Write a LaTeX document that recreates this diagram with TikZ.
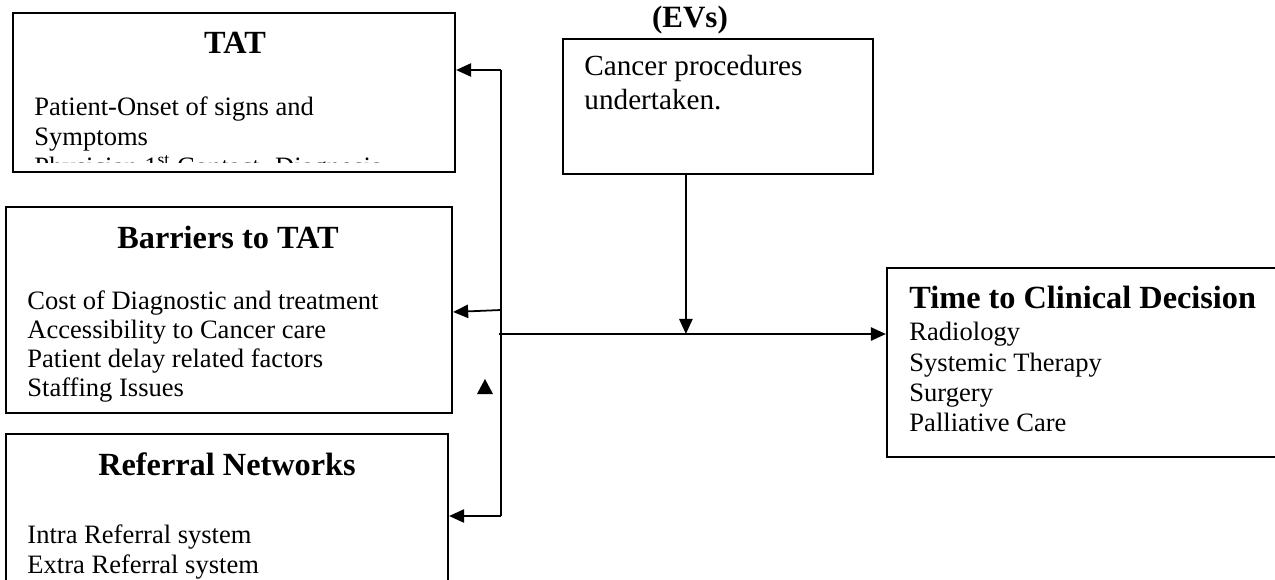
\documentclass[tikz,border=0pt]{standalone}
\usepackage{fontspec}
\setmainfont{Liberation Serif}
\usetikzlibrary{arrows.meta,fit,calc}
\begin{document}
\begin{tikzpicture}[x=0.452pt,y=-0.452pt,
  box/.style={draw,line width=1pt,inner sep=0pt,rectangle},
  conn/.style={line width=0.8pt},
  arr/.style={conn,-{Triangle[length=6.8pt,width=6pt]}},
  ttl/.style={font=\fontsize{14.6}{16}\selectfont\bfseries,inner sep=0pt},
  body/.style={font=\fontsize{12}{13.56}\selectfont,inner sep=0pt,anchor=base west},
]
\clip (0,0) rectangle (1275,579);
% boxes
\node[box,fit={(13,13) (455,172)}] (tat) {};
\node[box,fit={(6,207) (452,413)}] (bar) {};
\node[box,fit={(6,434) (448,620)}] (ref) {};
\node[box,fit={(563,39) (873,174)}] (evs) {};
\node[box,fit={(887,268) (1300,457)}] (time) {};
% titles
\node[ttl,anchor=base] (tattitle) at (235,53) {TAT};
\node[ttl,anchor=base] (bartitle) at (228,248) {Barriers to TAT};
\node[ttl,anchor=base] (reftitle) at (227,475) {Referral Networks};
\node[ttl,anchor=base west] (timetitle) at (909,308) {Time to Clinical Decision};
\node[ttl,font=\fontsize{14}{16}\selectfont\bfseries,anchor=base] (evstitle) at (690,27) {(EVs)};
% bodies
\begin{scope}
\clip (13,13) rectangle (455,162);
\node[body] (tatbody) at (34,115) {\vtop{\hbox{Patient-Onset of signs and}\hbox{Symptoms}\hbox{Physician 1\textsuperscript{st} Contact- Diagnosis}}};
\end{scope}
\begin{scope}
\clip (6,207) rectangle (452,403);
\node[body,font=\fontsize{12}{13.15}\selectfont] (barbody) at (27,309.3) {\vtop{\hbox{Cost of Diagnostic and treatment}\hbox{Accessibility to Cancer care}\hbox{Patient delay related factors}\hbox{Staffing Issues}}};
\end{scope}
\node[body] (refbody) at (27,543) {\vtop{\hbox{Intra Referral system}\hbox{Extra Referral system}}};
\node[body,font=\fontsize{13.2}{15.8}\selectfont] (evsbody) at (584,75) {\vtop{\hbox{Cancer procedures}\hbox{undertaken.}}};
\node[body,font=\fontsize{12}{13.74}\selectfont] (timebody) at (909,340.7) {\vtop{\hbox{Radiology}\hbox{Systemic Therapy}\hbox{Surgery}\hbox{Palliative Care}}};
% junctions
\coordinate (jtat) at (501,70);
\coordinate (jbar) at (501,310);
\coordinate (jref) at (501,516);
\coordinate (jmain) at (499,334);
\coordinate (evsdrop) at ($(evs.south west)+(124,0)$);
% connectors
\draw[conn] (jtat) -- (jref);
\draw[arr] (jtat) -- (jtat -| tat.east);
\draw[arr] (jbar) -- ([yshift=-0.9pt]bar.east);
\draw[arr] (jref) -- (jref -| ref.east);
\draw[arr] (jmain) -- (jmain -| time.west);
\draw[arr] (evsdrop) -- (evsdrop |- jmain);
% stray arrowhead
\fill (477,394) -- (485,379) -- (493,394) -- cycle;
\end{tikzpicture}
\end{document}
